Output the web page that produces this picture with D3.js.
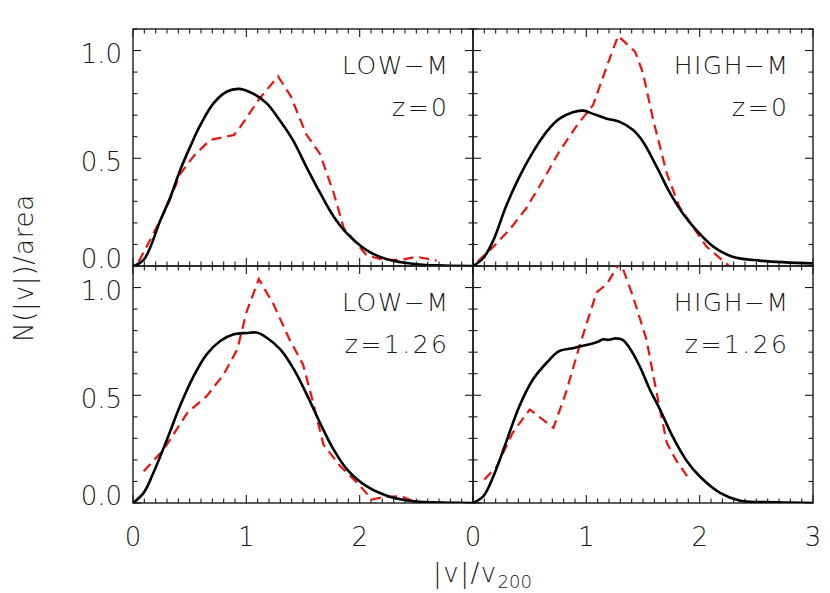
<!DOCTYPE html>
<html><head><meta charset="utf-8">
<script src="https://cdn.jsdelivr.net/npm/d3@7"></script>
<style>
body{margin:0;background:#fff}
text{font-family:"DejaVu Sans","Liberation Sans",sans-serif;font-weight:200;fill:#1a1a1a}
</style>
</head><body>
<svg id="chart" width="830" height="593"></svg>
<script>
// ---- data ----
const xTicks = [0, 1, 2, 3];
const yTicks = [0, 0.5, 1.0];
const panelMass = ["LOW\u2212M", "HIGH\u2212M", "LOW\u2212M", "HIGH\u2212M"];
const panelZ = ["z=0", "z=0", "z=1.26", "z=1.26"];

// LOW-M z=0
const lowZ0SimX = [0,0.094,0.24,0.33,0.42,0.51,0.59,0.71,0.83,0.94,1.06,1.18,1.29,1.41,1.53,1.65,1.77,1.89,2.06,2.24,2.5,2.75,3.0];
const lowZ0SimY = [0,0.028,0.21,0.32,0.45,0.56,0.65,0.755,0.81,0.822,0.80,0.755,0.68,0.585,0.46,0.34,0.23,0.15,0.074,0.031,0.008,0.002,0];
const lowZ0ObsX = [0.05,0.18,0.30,0.42,0.535,0.68,0.89,0.94,1.12,1.28,1.39,1.53,1.65,1.77,1.86,1.95,2.06,2.21,2.36,2.50,2.68];
const lowZ0ObsY = [0.02,0.15,0.275,0.43,0.51,0.585,0.608,0.64,0.78,0.88,0.79,0.61,0.52,0.34,0.175,0.12,0.05,0.028,0.028,0.043,0.025];

// HIGH-M z=0
const highZ0SimX = [0,0.09,0.18,0.29,0.41,0.53,0.65,0.76,0.88,0.97,1.06,1.18,1.29,1.41,1.50,1.62,1.74,1.85,1.97,2.12,2.29,2.53,3.0];
const highZ0SimY = [0,0.036,0.12,0.275,0.415,0.53,0.624,0.683,0.714,0.721,0.706,0.684,0.67,0.632,0.577,0.461,0.337,0.245,0.167,0.09,0.043,0.025,0.012];
const highZ0ObsX = [0.04,0.18,0.32,0.47,0.62,0.76,0.91,1.06,1.18,1.28,1.43,1.50,1.59,1.71,1.82,1.94,2.06,2.26];
const highZ0ObsY = [0.02,0.09,0.167,0.268,0.40,0.53,0.647,0.748,0.926,1.068,0.995,0.895,0.678,0.43,0.276,0.183,0.09,0.0];

// LOW-M z=1.26
const lowZ1SimX = [0,0.094,0.18,0.30,0.42,0.535,0.65,0.77,0.89,1.0,1.09,1.18,1.30,1.42,1.54,1.65,1.77,1.89,2.06,2.24,2.42,2.65,3.0];
const lowZ1SimY = [0,0.047,0.14,0.295,0.457,0.589,0.69,0.752,0.783,0.789,0.791,0.767,0.713,0.62,0.496,0.372,0.248,0.155,0.078,0.034,0.012,0.003,0];
const lowZ1ObsX = [0.094,0.27,0.48,0.65,0.80,0.92,1.0,1.11,1.24,1.38,1.50,1.59,1.68,1.83,1.98,2.11,2.21,2.36,2.51,2.95];
const lowZ1ObsY = [0.147,0.248,0.419,0.496,0.597,0.713,0.884,1.039,0.922,0.76,0.643,0.465,0.271,0.17,0.093,0.016,0.028,0.031,0.003,0];

// HIGH-M z=1.26
const highZ1SimX = [0,0.09,0.18,0.29,0.41,0.53,0.65,0.76,0.88,1.0,1.09,1.15,1.19,1.26,1.32,1.38,1.47,1.56,1.65,1.76,1.88,2.0,2.18,2.35,2.68,3.0];
const highZ1SimY = [0,0.031,0.124,0.279,0.45,0.574,0.651,0.705,0.718,0.733,0.746,0.76,0.757,0.764,0.757,0.721,0.636,0.527,0.434,0.31,0.20,0.124,0.047,0.012,0.003,0];
const highZ1ObsX = [0.10,0.21,0.35,0.50,0.71,0.82,0.94,1.09,1.18,1.30,1.41,1.53,1.62,1.71,1.79,1.91];
const highZ1ObsY = [0.109,0.17,0.326,0.434,0.349,0.512,0.729,0.977,1.016,1.12,0.961,0.76,0.512,0.279,0.20,0.109];

const simX = [lowZ0SimX, highZ0SimX, lowZ1SimX, highZ1SimX];
const simY = [lowZ0SimY, highZ0SimY, lowZ1SimY, highZ1SimY];
const obsX = [lowZ0ObsX, highZ0ObsX, lowZ1ObsX, highZ1ObsX];
const obsY = [lowZ0ObsY, highZ0ObsY, lowZ1ObsY, highZ1ObsY];

// ---- layout ----
const L = 133, T = 29, PW = 340, PH = 237;
const svg = d3.select("#chart");
const frameColor = "#1a1a1a";

for (let i = 0; i < 4; i++) {
  const col = i % 2, row = Math.floor(i / 2);
  const x0 = L + col * PW, y0 = T + row * PH;
  const x = d3.scaleLinear().domain([0, 3]).range([x0, x0 + PW]);
  const y = d3.scaleLinear().domain([0, 1.1]).range([y0 + PH, y0]);
  const g = svg.append("g");

  const clipId = "clip" + i;
  svg.append("clipPath").attr("id", clipId).append("rect")
    .attr("x", x0).attr("y", y0).attr("width", PW).attr("height", PH);

  // ticks (all four sides, pointing inward)
  const minorX = d3.range(0, 30.5, 1).map(v => v / 10);
  const minorY = d3.range(0, 11.5, 1).map(v => v / 10);
  const tk = g.append("g").attr("stroke", frameColor).attr("stroke-width", 1.1);
  minorX.forEach(v => {
    const major = Math.abs(v - Math.round(v)) < 1e-6;
    const len = major ? 8 : 4.5;
    tk.append("line").attr("x1", x(v)).attr("x2", x(v)).attr("y1", y0 + PH).attr("y2", y0 + PH - len);
    tk.append("line").attr("x1", x(v)).attr("x2", x(v)).attr("y1", y0).attr("y2", y0 + len);
  });
  minorY.forEach(v => {
    const major = Math.abs(v * 2 - Math.round(v * 2)) < 1e-6;
    const len = major ? 8 : 4.5;
    tk.append("line").attr("x1", x0).attr("x2", x0 + len).attr("y1", y(v)).attr("y2", y(v));
    tk.append("line").attr("x1", x0 + PW).attr("x2", x0 + PW - len).attr("y1", y(v)).attr("y2", y(v));
  });

  // frame
  g.append("rect").attr("x", x0).attr("y", y0).attr("width", PW).attr("height", PH)
    .attr("fill", "none").attr("stroke", frameColor).attr("stroke-width", 1.4);

  // curves
  const simPts = simX[i].map((v, k) => [v, simY[i][k]]);
  const obsPts = obsX[i].map((v, k) => [v, obsY[i][k]]);
  g.append("path").attr("clip-path", `url(#${clipId})`)
    .attr("d", d3.line().x(d => x(d[0])).y(d => y(d[1])).curve(d3.curveLinear)(obsPts))
    .attr("fill", "none").attr("stroke", "#ee1111").attr("stroke-width", 2.2)
    .attr("stroke-dasharray", "10,6");
  g.append("path").attr("clip-path", `url(#${clipId})`)
    .attr("d", d3.line().x(d => x(d[0])).y(d => y(Math.max(0, d[1]))).curve(d3.curveCatmullRom.alpha(0.5))(simPts))
    .attr("fill", "none").attr("stroke", "#000").attr("stroke-width", 2.6);

  // panel labels
  g.append("text").attr("x", x0 + PW - 23.5).attr("y", y0 + 44.5)
    .attr("text-anchor", "end").attr("font-size", 25).attr("letter-spacing", 1.5).text(panelMass[i]);
  g.append("text").attr("x", x0 + PW - 23.5).attr("y", y0 + 87)
    .attr("text-anchor", "end").attr("font-size", 25).attr("letter-spacing", 2.5).text(panelZ[i]);

  // y tick labels
  if (col === 0) {
    yTicks.forEach(v => {
      g.append("text").attr("x", x0 - 11).attr("y", y(v) + (v === 0 ? 2 : 12.5))
        .attr("text-anchor", "end").attr("font-size", 26).text(d3.format(".1f")(v));
    });
  }
  // x tick labels
  if (row === 1) {
    xTicks.forEach(v => {
      if (col === 0 && v === 3) return;
      g.append("text").attr("x", x(v)).attr("y", y0 + PH + 43)
        .attr("text-anchor", "middle").attr("font-size", 26).text(d3.format("d")(v));
    });
  }
}

// axis titles
const xt = svg.append("text").attr("x", 433).attr("y", 582).attr("font-size", 26);
xt.append("tspan").attr("letter-spacing", 1.5).text("|v|/v");
xt.append("tspan").attr("font-size", 18).attr("dy", 6).text("200");

svg.append("text").attr("transform", "translate(33,268) rotate(-90)")
  .attr("text-anchor", "middle").attr("font-size", 26).attr("letter-spacing", 0.8).text("N(|v|)/area");
</script>
</body></html>
